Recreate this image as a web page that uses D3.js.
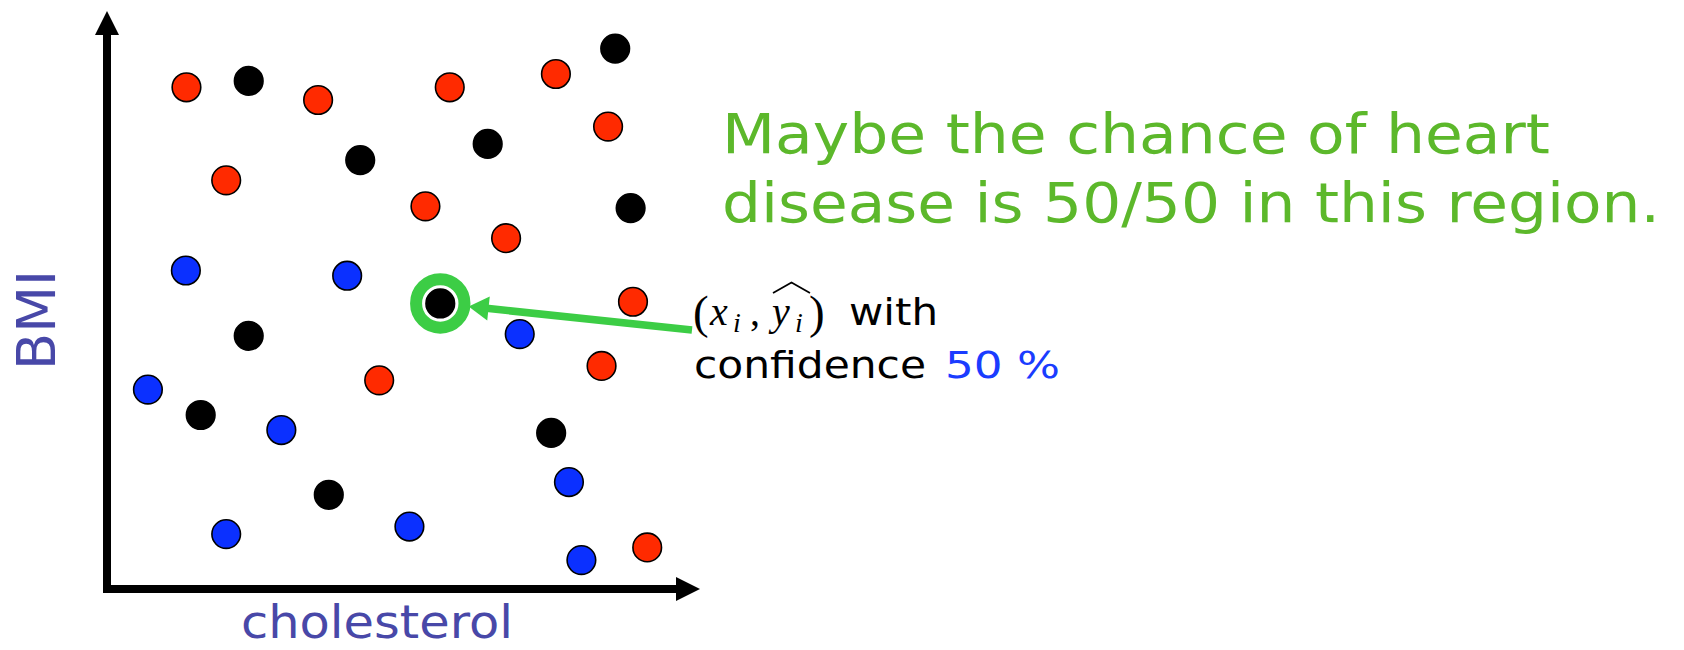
<!DOCTYPE html>
<html>
<head>
<meta charset="utf-8">
<script src="https://cdn.jsdelivr.net/npm/d3@7"></script>
<style>
  html, body { margin: 0; padding: 0; background: #fff; }
  svg { display: block; }
</style>
</head>
<body>
<svg id="chart" width="1684" height="650"></svg>
<script>
// ---- data (arbitrary 0-100 units, no ticks shown) ----
const classes     = ["red","black","red","red","red","black","red","black","black","red",
                     "red","black","red","blue","blue","black","red","black","blue","red",
                     "red","blue","black","blue","black","blue","black","blue","blue","blue","red"];
const cholesterol = [13.4,23.9,35.6,57.8,75.7,85.7,84.5,64.2,42.7,20.1,
                     53.7,88.3,67.3,13.3,40.5,56.2,88.7,23.9,69.6,83.4,
                     45.9,6.9,15.8,29.4,74.9,77.9,37.4,51.0,20.1,80.0,91.1];
const bmi         = [86.8,87.9,84.6,86.8,89.1,93.5,80.0,77.0,74.2,70.7,
                     66.2,65.9,60.7,55.1,54.2,49.4,49.7,43.8,44.1,38.6,
                     36.1,34.5,30.1,27.5,27.0,18.5,16.3,10.8,9.5,5.0,7.2];
const highlightIndex = 15;
const xLabel = "cholesterol";
const yLabel = "BMI";
const noteLines = ["Maybe the chance of heart", "disease is 50/50 in this region."];
const confidenceText = "50 %";

const colors = { red: "#ff2a00", blue: "#0b30ff", black: "#000000" };
const labelColor = "#4848a8";
const ringGreen = "#3ccd45";
const noteGreen = "#5cb82b";

const svg = d3.select("#chart");
const x = d3.scaleLinear().domain([0, 100]).range([107, 700]);
const y = d3.scaleLinear().domain([0, 100]).range([589, 11]);

// ---- axes with arrowheads ----
const axW = 8, headLen = 24, headHalf = 12;
svg.append("path")
  .attr("d", `M${x(0)},${y(100) + headLen - 1} L${x(0)},${y(0)} L${x(100) - headLen + 1},${y(0)}`)
  .attr("fill", "none").attr("stroke", "#000").attr("stroke-width", axW)
  .attr("stroke-linejoin", "miter").attr("stroke-linecap", "butt");
svg.append("path")
  .attr("d", `M${x(0)},${y(100)} L${x(0) - headHalf},${y(100) + headLen} L${x(0) + headHalf},${y(100) + headLen} Z`)
  .attr("fill", "#000");
svg.append("path")
  .attr("d", `M${x(100)},${y(0)} L${x(100) - headLen},${y(0) - headHalf} L${x(100) - headLen},${y(0) + headHalf} Z`)
  .attr("fill", "#000");

// ---- points ----
const pts = classes.map((c, i) => ({ c, x: cholesterol[i], y: bmi[i], i }));
svg.append("g").selectAll("circle").data(pts).join("circle")
  .attr("cx", d => x(d.x)).attr("cy", d => y(d.y)).attr("r", 14.3)
  .attr("fill", d => colors[d.c])
  .attr("stroke", "#000").attr("stroke-width", 1.6);

// ---- highlight ring ----
const hp = pts[highlightIndex];
const hx = x(hp.x), hy = y(hp.y);
svg.append("circle").attr("cx", hx).attr("cy", hy).attr("r", 24.2)
  .attr("fill", "none").attr("stroke", ringGreen).attr("stroke-width", 12);

// ---- annotation arrow ----
const start = [692, 330];
const tipDist = 28.5;
let dx = hx - start[0], dy = hy - start[1];
const len = Math.hypot(dx, dy); dx /= len; dy /= len;
const tip = [hx - dx * tipDist, hy - dy * tipDist];
const aLen = 20, aHalf = 12;
const base = [tip[0] - dx * aLen, tip[1] - dy * aLen];
const nx = -dy, ny = dx;
svg.append("line")
  .attr("x1", start[0]).attr("y1", start[1]).attr("x2", base[0] + dx * 2).attr("y2", base[1] + dy * 2)
  .attr("stroke", ringGreen).attr("stroke-width", 7.5);
svg.append("path")
  .attr("d", `M${tip[0]},${tip[1]} L${base[0] + nx * aHalf},${base[1] + ny * aHalf} L${base[0] - nx * aHalf},${base[1] - ny * aHalf} Z`)
  .attr("fill", ringGreen);

// ---- axis labels ----
svg.append("text")
  .attr("transform", "translate(55,320) rotate(-90)")
  .attr("text-anchor", "middle")
  .attr("font-family", "DejaVu Sans").attr("font-size", 54)
  .attr("textLength", 100).attr("lengthAdjust", "spacingAndGlyphs")
  .attr("fill", labelColor).text(yLabel);
svg.append("text")
  .attr("x", 241).attr("y", 638)
  .attr("font-family", "DejaVu Sans").attr("font-size", 46)
  .attr("textLength", 272).attr("lengthAdjust", "spacingAndGlyphs")
  .attr("fill", labelColor).text(xLabel);

// ---- green note ----
const noteX = 722, noteBase = [153, 222], noteLen = [828, 938];
noteLines.forEach((t, i) => {
  svg.append("text")
    .attr("x", noteX).attr("y", noteBase[i])
    .attr("font-family", "DejaVu Sans").attr("font-size", 55)
    .attr("textLength", noteLen[i]).attr("lengthAdjust", "spacingAndGlyphs")
    .attr("fill", noteGreen).text(t);
});

// ---- math label (x_i, ŷ_i) with / confidence 50 % ----
const mathG = svg.append("g").attr("fill", "#000");
const serif = "Liberation Serif";
const mb = 325;
mathG.append("text").attr("x", 693).attr("y", mb + 3).attr("font-family", serif).attr("font-size", 47).text("(");
mathG.append("text").attr("x", 710).attr("y", mb).attr("font-family", serif).attr("font-style", "italic").attr("font-size", 40).text("x");
mathG.append("text").attr("x", 733).attr("y", mb + 7).attr("font-family", serif).attr("font-style", "italic").attr("font-size", 28).text("i");
mathG.append("text").attr("x", 750).attr("y", mb).attr("font-family", serif).attr("font-size", 40).text(",");
mathG.append("text").attr("x", 772).attr("y", mb).attr("font-family", serif).attr("font-style", "italic").attr("font-size", 40).text("y");
mathG.append("text").attr("x", 795).attr("y", mb + 7).attr("font-family", serif).attr("font-style", "italic").attr("font-size", 28).text("i");
mathG.append("text").attr("x", 809).attr("y", mb + 3).attr("font-family", serif).attr("font-size", 47).text(")");
mathG.append("path").attr("d", "M773,293 L791.5,282.5 L810,293")
  .attr("fill", "none").attr("stroke", "#000").attr("stroke-width", 1.8);
mathG.append("text").attr("x", 849).attr("y", mb)
  .attr("font-family", "DejaVu Sans").attr("font-size", 38)
  .attr("textLength", 89).attr("lengthAdjust", "spacingAndGlyphs").text("with");
mathG.append("text").attr("x", 694).attr("y", 378)
  .attr("font-family", "DejaVu Sans").attr("font-size", 38)
  .attr("textLength", 232).attr("lengthAdjust", "spacingAndGlyphs").text("confidence");
svg.append("text").attr("x", 945).attr("y", 378)
  .attr("font-family", "DejaVu Sans").attr("font-size", 38)
  .attr("textLength", 115).attr("lengthAdjust", "spacingAndGlyphs")
  .attr("fill", "#1a3cff").text(confidenceText);
</script>
</body>
</html>
